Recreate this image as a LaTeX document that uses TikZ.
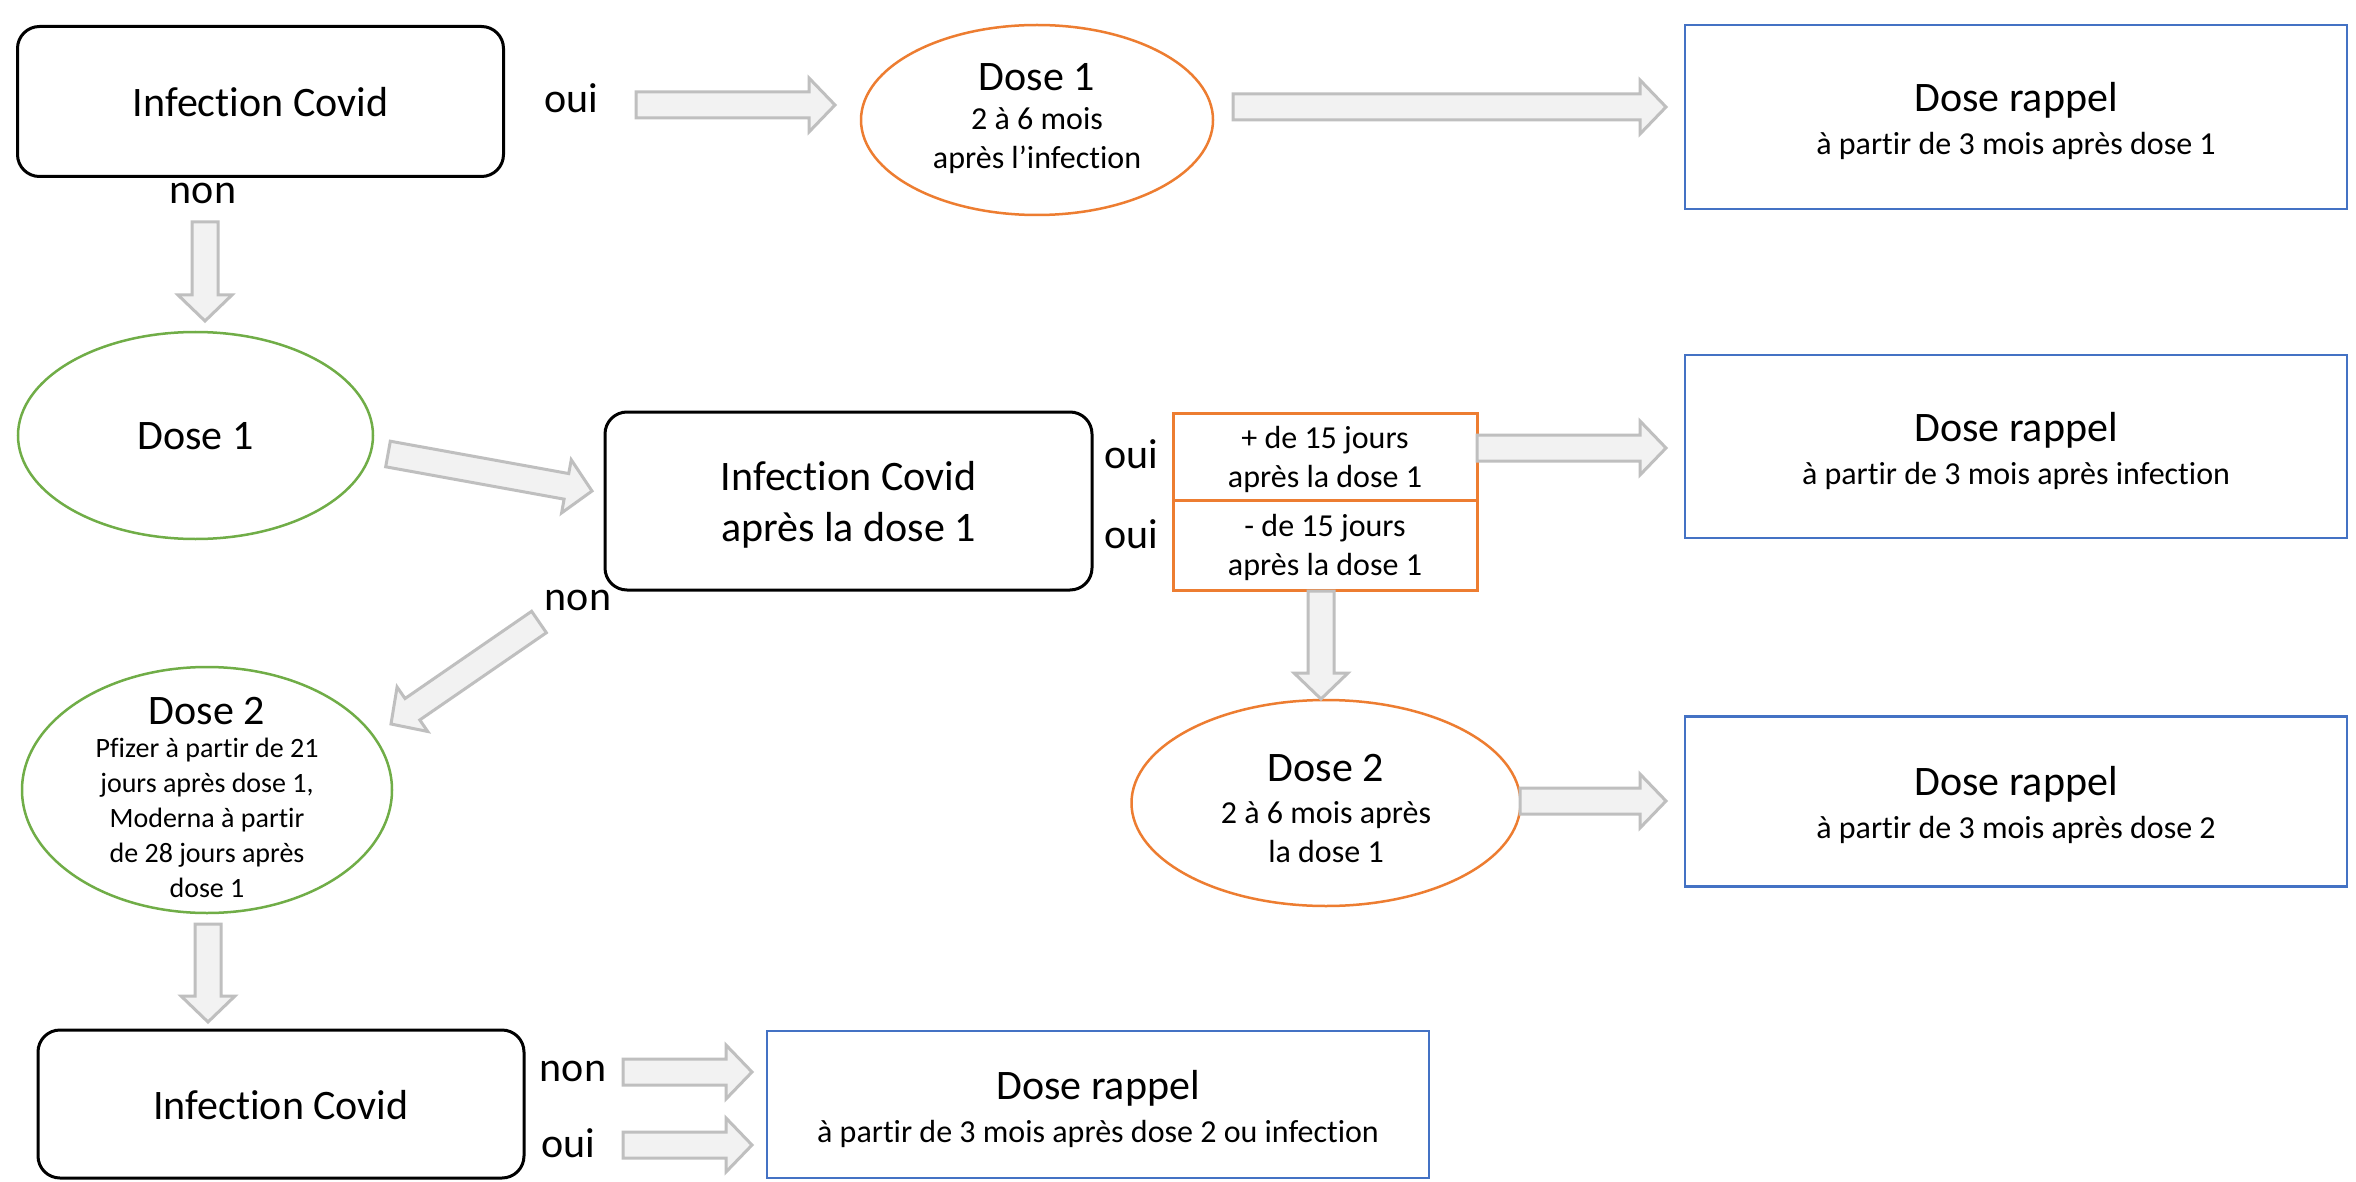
\documentclass[tikz,border=0pt]{standalone}
\usepackage{fontspec}
\setmainfont{Carlito}[Ligatures=NoCommon]
\usetikzlibrary{calc,shapes.geometric}
\definecolor{cOrange}{HTML}{ED7D31}
\definecolor{cGreen}{HTML}{70AD47}
\definecolor{cBlue}{HTML}{4472C4}
\definecolor{cArrFill}{HTML}{F2F2F2}
\definecolor{cArrLine}{HTML}{BFBFBF}
\newcommand\fbig{\fontsize{42}{51}\selectfont}
\newcommand\fsmall{\fontsize{32}{39}\selectfont}
\newcommand\fsmaller{\fontsize{28}{35}\selectfont}
\newcommand\blockarrow[2]{%
  \coordinate (ahb) at ($(#2)!26pt!(#1)$);
  \filldraw[barrow] ($(#1)!13pt!90:(#2)$) -- ($(ahb)!13pt!90:(#2)$) -- ($(ahb)!27pt!90:(#2)$) -- (#2) -- ($(ahb)!27pt!-90:(#2)$) -- ($(ahb)!13pt!-90:(#2)$) -- ($(#1)!13pt!-90:(#2)$) -- cycle;}
\tikzset{
  barrow/.style={fill=cArrFill, draw=cArrLine, line width=3pt, line join=miter},
  rbox/.style={draw=black, line width=3pt, rounded corners=22pt, inner sep=0pt},
  bluebox/.style={draw=cBlue, line width=2.5pt, inner sep=0pt},
  obox/.style={draw=cOrange, line width=3pt, inner sep=0pt},
  oell/.style={ellipse, draw=cOrange, line width=2.5pt, inner sep=0pt},
  gell/.style={ellipse, draw=cGreen, line width=2.5pt, inner sep=0pt},
  lbl/.style={font=\fbig, anchor=base, inner sep=0pt},
  txt/.style={align=center, inner sep=0pt, font=\fsmall},
}
\begin{document}
\begin{tikzpicture}[x=1pt,y=-1pt]
\useasboundingbox[fill=white] (0,0) rectangle (2356,1182);
% --- row 1
\node[rbox, minimum width=486pt, minimum height=150pt] (inf1) at (260.5,101.5) {};
\node[txt, font=\fbig] (inf1t) at (260.5,102) {Infection Covid};
\node[oell, minimum width=352pt, minimum height=190pt] (d1o) at (1037,120) {};
\node[txt] (d1ot) at (1037,119) {{\fbig Dose 1}\\2 à 6 mois\\après l’infection};
\node[bluebox, minimum width=662pt, minimum height=184pt] (r1) at (2016,117) {};
\node[txt] (r1t) at (2016,121) {{\fbig Dose rappel}\\[4pt]à partir de 3 mois après dose 1};
\node[lbl] (oui1) at (571,113) {oui};
\node[lbl] (non1) at (203,204) {non};
% --- row 2
\node[gell, minimum width=355pt, minimum height=207pt] (d1g) at (195.5,435.5) {};
\node[txt, font=\fbig] (d1gt) at (195.5,436) {Dose 1};
\node[rbox, minimum width=487pt, minimum height=178pt] (inf2) at (848.5,501) {};
\node[txt, font=\fbig] (inf2t) at (848.5,505) {Infection Covid\\après la dose 1};
\node[obox, minimum width=304pt, minimum height=87pt] (plus) at (1325,456.5) {};
\node[txt] (plust) at (1325,459) {+ de 15 jours\\après la dose 1};
\node[obox, minimum width=304pt, minimum height=90pt] (moins) at (1325,545) {};
\node[txt] (moinst) at (1325,547.5) {- de 15 jours\\après la dose 1};
\node[bluebox, minimum width=662pt, minimum height=183pt] (r2) at (2016,446.5) {};
\node[txt] (r2t) at (2016,450.5) {{\fbig Dose rappel}\\[4pt]à partir de 3 mois après infection};
\node[lbl] (oui2) at (1131,468) {oui};
\node[lbl] (oui3) at (1131,548) {oui};
\node[lbl] (non2) at (578,610) {non};
% --- row 3
\node[gell, minimum width=370pt, minimum height=246pt] (d2g) at (207,790) {};
\node[txt, font=\fsmaller] (d2gt) at (207,797) {{\fbig Dose 2}\\[-2pt]Pfizer à partir de 21\\jours après dose 1,\\Moderna à partir\\de 28 jours après\\dose 1};
\node[oell, minimum width=389pt, minimum height=206pt] (d2o) at (1326,803) {};
\node[txt] (d2ot) at (1326,808) {{\fbig Dose 2}\\[3pt]2 à 6 mois après\\la dose 1};
\node[bluebox, minimum width=662pt, minimum height=170pt] (r3) at (2016,801.5) {};
\node[txt] (r3t) at (2016,805) {{\fbig Dose rappel}\\[4pt]à partir de 3 mois après dose 2};
% --- row 4
\node[rbox, minimum width=486pt, minimum height=148pt] (inf3) at (281,1104) {};
\node[txt, font=\fbig] (inf3t) at (281,1105) {Infection Covid};
\node[bluebox, minimum width=662pt, minimum height=147pt] (r4) at (1098,1104.5) {};
\node[txt] (r4t) at (1098,1109) {{\fbig Dose rappel}\\[4pt]à partir de 3 mois après dose 2 ou infection};
\node[lbl] (non3) at (573,1081) {non};
\node[lbl] (oui4) at (568,1157) {oui};
% --- arrow ends
\coordinate (a1s) at (636,105);  \coordinate (a1e) at (835,105);
\coordinate (a2s) at (1233,107); \coordinate (a2e) at (1666,107);
\coordinate (a3s) at (205,222);  \coordinate (a3e) at (205,321);
\coordinate (a4s) at (388,454);  \coordinate (a4e) at (592,491);
\coordinate (a5s) at (1477,448); \coordinate (a5e) at (1666,448);
\coordinate (a6s) at (1321,591); \coordinate (a6e) at (1321,699);
\coordinate (a7s) at (1520,801); \coordinate (a7e) at (1666,801);
\coordinate (a8s) at (539,622);  \coordinate (a8e) at (391,724);
\coordinate (a9s) at (208,924);  \coordinate (a9e) at (208,1022);
\coordinate (a10s) at (623,1072); \coordinate (a10e) at (752,1072);
\coordinate (a11s) at (623,1145); \coordinate (a11e) at (752,1145);
\blockarrow{a1s}{a1e}
\blockarrow{a2s}{a2e}
\blockarrow{a3s}{a3e}
\blockarrow{a4s}{a4e}
\blockarrow{a5s}{a5e}
\blockarrow{a6s}{a6e}
\blockarrow{a7s}{a7e}
\blockarrow{a8s}{a8e}
\blockarrow{a9s}{a9e}
\blockarrow{a10s}{a10e}
\blockarrow{a11s}{a11e}
\end{tikzpicture}
\end{document}
